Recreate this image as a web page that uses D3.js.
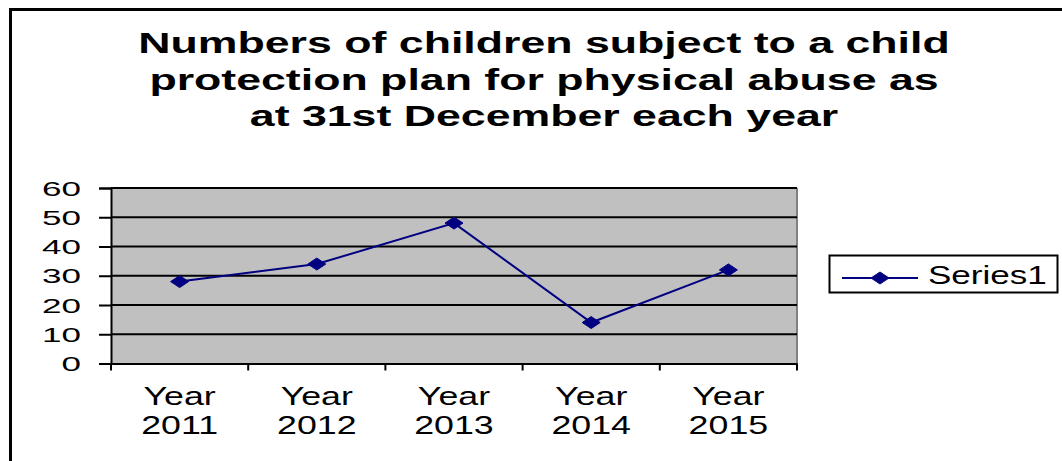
<!DOCTYPE html>
<html>
<head>
<meta charset="utf-8">
<script src="https://cdn.jsdelivr.net/npm/d3@7"></script>
<style>
  html, body { margin: 0; padding: 0; background: #fff; }
  svg { display: block; font-family: "Liberation Sans", Arial, sans-serif; }
</style>
</head>
<body>
<svg id="chart" width="1062" height="461"></svg>
<script>
const titleLines = [
  "Numbers of children subject to a child",
  "protection plan for physical abuse as",
  "at 31st December each year"
];
const categories = ["Year 2011", "Year 2012", "Year 2013", "Year 2014", "Year 2015"];
const values = [28, 34, 48, 14, 32];
const yTicks = [0, 10, 20, 30, 40, 50, 60];
const seriesName = "Series1";

const svg = d3.select("#chart");

// stretch text horizontally like the reference
function stretch(sel, factor) {
  sel.each(function() {
    const w = this.getComputedTextLength();
    d3.select(this).attr("textLength", w * factor).attr("lengthAdjust", "spacingAndGlyphs");
  });
}

// outer chart border (left and top visible)
svg.append("path")
  .attr("d", "M10.5,461 L10.5,9.5 L1062,9.5")
  .attr("fill", "none").attr("stroke", "#000").attr("stroke-width", 3);

// title
const title = svg.append("g");
title.selectAll("text").data(titleLines).join("text")
  .attr("x", 544)
  .attr("y", (d, i) => 53 + i * 36.5)
  .attr("text-anchor", "middle")
  .attr("font-size", 29)
  .attr("font-weight", "bold")
  .text(d => d)
  .call(stretch, 1.54);

const plot = { left: 111, right: 797, top: 188, bottom: 363.5 };

const x = d3.scaleBand().domain(categories).range([plot.left, plot.right]).padding(0);
const y = d3.scaleLinear().domain([0, 60]).range([plot.bottom, plot.top]);

// plot background
svg.append("rect")
  .attr("x", plot.left).attr("y", plot.top)
  .attr("width", plot.right - plot.left).attr("height", plot.bottom - plot.top)
  .attr("fill", "#C0C0C0");

// right border (gray)
svg.append("line")
  .attr("x1", plot.right).attr("x2", plot.right)
  .attr("y1", plot.top).attr("y2", plot.bottom)
  .attr("stroke", "#808080").attr("stroke-width", 2);

// gridlines
svg.append("g").selectAll("line").data(yTicks.filter(d => d > 0)).join("line")
  .attr("x1", plot.left).attr("x2", plot.right)
  .attr("y1", d => y(d)).attr("y2", d => y(d))
  .attr("stroke", "#000").attr("stroke-width", 2);

// y axis
const yAxis = svg.append("g")
  .attr("transform", `translate(${plot.left},0)`)
  .call(d3.axisLeft(y).tickValues(yTicks).tickSize(12).tickPadding(18));
yAxis.select(".domain").attr("stroke", "#000").attr("stroke-width", 2);
yAxis.selectAll(".tick line").attr("stroke", "#000").attr("stroke-width", 2);
yAxis.selectAll(".tick text")
  .attr("font-size", 20).attr("fill", "#000")
  .attr("font-family", "Liberation Sans, Arial, sans-serif")
  .attr("dy", "0.36em")
  .call(stretch, 1.75);

// x axis
const xAxis = svg.append("g")
  .attr("transform", `translate(0,${plot.bottom})`)
  .call(d3.axisBottom(x).tickSize(0).tickFormat(""));
xAxis.select(".domain").attr("stroke", "#000").attr("stroke-width", 2);
xAxis.selectAll(".tick").remove();

// category boundary ticks
const bounds = categories.map(c => x(c)).concat([x(categories[categories.length - 1]) + x.bandwidth()]);
svg.append("g").selectAll("line").data(bounds).join("line")
  .attr("x1", d => d).attr("x2", d => d)
  .attr("y1", plot.bottom).attr("y2", plot.bottom + 7)
  .attr("stroke", "#000").attr("stroke-width", 2);

// category labels (two lines)
const labG = svg.append("g");
categories.forEach(c => {
  const parts = c.split(" ");
  parts.forEach((p, i) => {
    labG.append("text")
      .attr("x", x(c) + x.bandwidth() / 2)
      .attr("y", 405 + i * 29)
      .attr("text-anchor", "middle")
      .attr("font-size", 25)
      .text(p);
  });
});
labG.selectAll("text").call(stretch, 1.43);

// line series
const line = d3.line()
  .x((d, i) => x(categories[i]) + x.bandwidth() / 2)
  .y(d => y(d));
svg.append("path")
  .datum(values)
  .attr("d", line)
  .attr("fill", "none").attr("stroke", "#000080").attr("stroke-width", 2);

const diamond = "M-9,0 L0,-6 L9,0 L0,6 Z";
svg.append("g").selectAll("path").data(values).join("path")
  .attr("d", diamond)
  .attr("transform", (d, i) => `translate(${x(categories[i]) + x.bandwidth() / 2},${y(d)})`)
  .attr("fill", "#000080").attr("stroke", "#000080").attr("stroke-width", 1);

// legend
const lg = svg.append("g");
lg.append("rect")
  .attr("x", 829.5).attr("y", 255.5).attr("width", 228).attr("height", 37)
  .attr("fill", "#fff").attr("stroke", "#000").attr("stroke-width", 2);
lg.append("line")
  .attr("x1", 842).attr("x2", 918).attr("y1", 278).attr("y2", 278)
  .attr("stroke", "#000080").attr("stroke-width", 2);
lg.append("path")
  .attr("d", diamond).attr("transform", "translate(880,278)")
  .attr("fill", "#000080").attr("stroke", "#000080");
lg.append("text")
  .attr("x", 928).attr("y", 284)
  .attr("font-size", 25)
  .text(seriesName)
  .call(stretch, 1.4);
</script>
</body>
</html>
